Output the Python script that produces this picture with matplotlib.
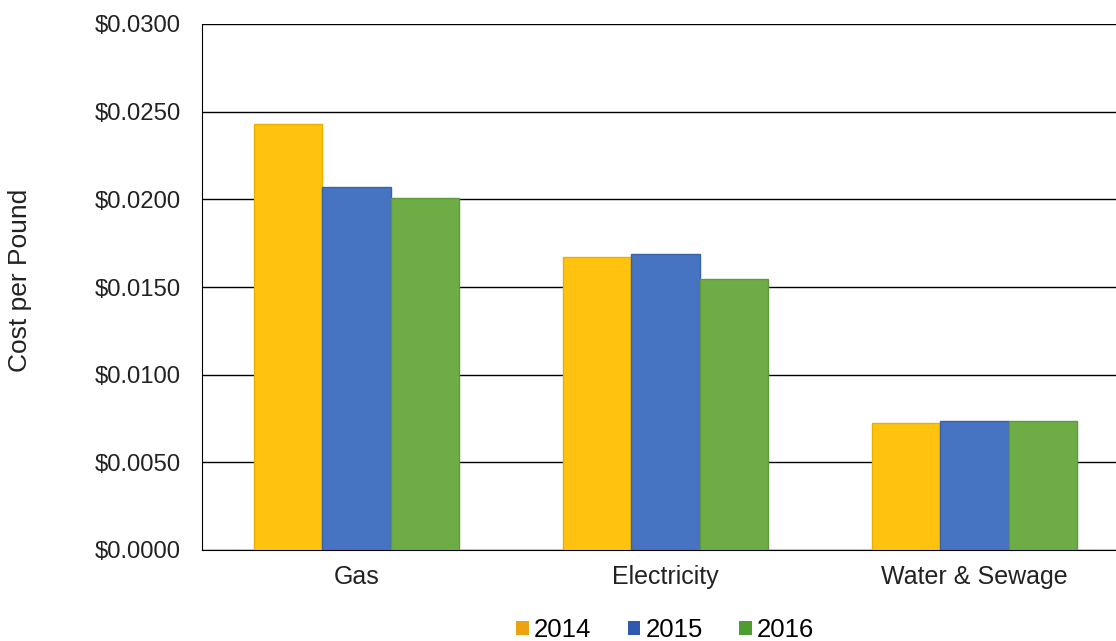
import matplotlib
matplotlib.use("Agg")
import matplotlib.pyplot as plt
import numpy as np
from matplotlib.ticker import FuncFormatter
from matplotlib.patches import Patch

plt.rcParams['font.family'] = ['Liberation Sans', 'DejaVu Sans']

categories = ["Gas", "Electricity", "Water & Sewage"]
years = ["2014", "2015", "2016"]
v2014 = [0.0243, 0.0167, 0.00724]
v2015 = [0.0207, 0.0169, 0.00736]
v2016 = [0.0201, 0.01546, 0.00736]
series = [v2014, v2015, v2016]
colors = ["#FFC20E", "#4674C2", "#6EAD46"]
edges = ["#E8B000", "#3A62A8", "#5E9A3A"]
legend_colors = ["#EBA312", "#3059B0", "#4F9C30"]

fig = plt.figure(figsize=(11.16, 6.41), dpi=100)
ax = fig.add_axes([202/1116, 1 - 550/641, (1129 - 202)/1116, (550 - 24)/641])

x = np.arange(len(categories))
w = 0.222
for i, (vals, c, e, lab) in enumerate(zip(series, colors, edges, years)):
    ax.bar(x + (i - 1) * w, vals, width=w, color=c, edgecolor=e, linewidth=1, label=lab, zorder=3)

ax.set_xlim(-0.5, 2.5)
ax.set_ylim(0, 0.03)
ax.set_yticks(np.arange(0, 0.0301, 0.005))
ax.yaxis.set_major_formatter(FuncFormatter(lambda v, p: f"${v:.4f}"))
ax.grid(axis='y', color='black', linewidth=1, zorder=0)
ax.set_xticks(x)
ax.set_xticklabels(categories)
ax.tick_params(axis='x', length=0, labelsize=18, colors='#222222', pad=11)
ax.tick_params(axis='y', length=0, labelsize=17.2, colors='#222222', pad=15)
for s in ['top', 'right']:
    ax.spines[s].set_visible(False)
ax.spines['left'].set_color('black')
ax.spines['bottom'].set_color('black')
ax.set_ylabel("Cost per Pound", fontsize=19, color='#222222')
ax.yaxis.set_label_coords(-0.183, 0.512)

handles = [Patch(facecolor=c, edgecolor='none', label=y) for c, y in zip(legend_colors, years)]
leg = fig.legend(handles=handles, loc='center', bbox_to_anchor=(0.596, 1 - 630/641), ncol=3, frameon=False,
                 fontsize=18.5, handlelength=0.5, handleheight=0.5, handletextpad=0.2, columnspacing=1.4)

fig.savefig("out.png", dpi=100)
